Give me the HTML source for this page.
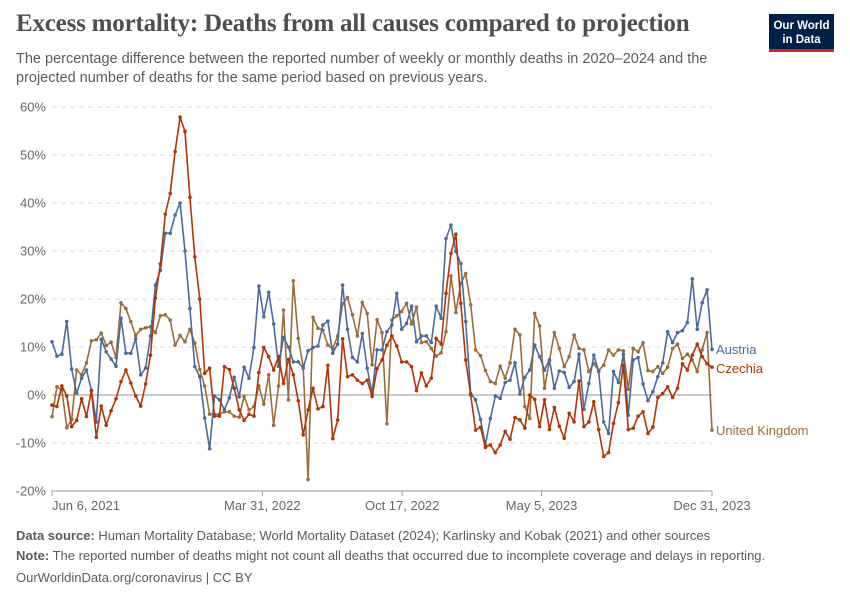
<!DOCTYPE html>
<html><head><meta charset="utf-8">
<style>
body{margin:0;background:#fff;font-family:"Liberation Sans",sans-serif;}
#wrap{position:relative;width:850px;height:600px;overflow:hidden;}
.title{position:absolute;left:16px;top:10px;font-family:"Liberation Serif",serif;font-size:25px;color:#4e4e4e;font-weight:bold;letter-spacing:-0.2px}
.sub{position:absolute;left:16px;top:50px;font-size:14.5px;color:#5b5b5b;line-height:19px;width:740px}
.logo{position:absolute;left:769px;top:14px;width:65px;height:38px;background:#002147;color:#fff;font-size:11.5px;font-weight:bold;text-align:center;line-height:14px;box-sizing:border-box;padding-top:5px;border-bottom:3px solid #ce261e}
.foot{position:absolute;left:16px;font-size:13px;color:#5b5b5b}
</style></head><body>
<div id="wrap">
<div class="title">Excess mortality: Deaths from all causes compared to projection</div>
<div class="sub">The percentage difference between the reported number of weekly or monthly deaths in 2020–2024 and the projected number of deaths for the same period based on previous years.</div>
<div class="logo">Our World<br>in Data</div>
<svg id="chart" width="850" height="600" style="position:absolute;left:0;top:0"></svg>
<div class="foot" style="top:528px"><b>Data source:</b> Human Mortality Database; World Mortality Dataset (2024); Karlinsky and Kobak (2021) and other sources</div>
<div class="foot" style="top:548px"><b>Note:</b> The reported number of deaths might not count all deaths that occurred due to incomplete coverage and delays in reporting.</div>
<div class="foot" style="top:570px">OurWorldinData.org/coronavirus | CC BY</div>
</div>
<script>
const yTicks=[60,50,40,30,20,10,0,-10,-20];
const xTickLabels=["Jun 6, 2021","Mar 31, 2022","Oct 17, 2022","May 5, 2023","Dec 31, 2023"];
const xTickWeeks=[0,42.7,71.1,99.4,134];
const austria=[11.1,8.1,8.5,15.3,5.4,0.4,3.5,5.2,1,-5.6,11.6,9,7.5,6,16,8.7,8.7,11.7,4.2,5.6,12.3,22.9,26,33.7,33.7,37.5,40,30,18,5.9,3.8,-4.8,-11.2,-0.2,-1,-3.1,-0.6,3.7,-0.4,5.8,3.5,9.9,22.7,16.3,21.4,14.8,6,12,10,6.9,6.9,5.6,9.2,9.9,10.2,14.6,15.4,8.7,10.6,22.9,13.7,7.8,6.9,12.8,5.6,0.3,9.4,9.4,13.2,14.6,21.2,13.7,14.9,18.5,11.1,12.3,12.3,10.9,18.5,16,32.6,35.4,29.9,27.4,15.3,0.3,-1,-5.1,-10.4,-4.9,-0.2,-0.7,2.6,3.1,6.7,0.2,3.7,5.2,10.4,8,5.2,7.3,1.4,5,4.7,1.6,2.8,8.5,-3,2.4,8.3,4.9,-5.6,-8,4.9,2.6,8.5,-4.2,7.3,7.8,2.3,-1.2,0.7,3.8,6.7,13.2,10.9,13,13.4,15.1,24.2,13.7,19.2,21.9,9.5];
const czechia=[-2.1,-2.4,1.9,-0.2,-6.6,-5.3,-0.8,-4.5,0.9,-8.8,-2.3,-6.3,-3.3,-0.8,2.8,5.2,2.5,-0.2,-2.3,2.3,8.3,20.2,27.3,37.7,42,50.7,57.9,54.9,41.2,28.8,20,4.5,5.6,-4.4,-4.4,5.9,5.3,1.4,-3.1,-5.3,-4,-4.4,4.7,9.9,8,5.2,8,2.4,7.4,4.2,-1.2,-8.3,-3.1,1.4,-2.9,-2.4,6.2,-9.1,-5.2,11.7,3.8,4.2,3.1,2.4,3.1,-0.3,5.5,7.3,10.4,12.3,10.2,6.9,6.9,5.9,0.9,4.6,1.9,3.5,11.8,10.6,21.2,29.5,33.5,19.1,7.3,0,-7.3,-6.7,-10.9,-10.4,-12,-10.4,-7.6,-9.2,-4.7,-5.2,-6.9,0,-0.9,-6.6,-1,-7.2,-2.6,-6.5,-9,-3.8,-5.6,2.9,-6.6,-5.6,-1.4,-7.2,-12.8,-12,-5.9,-1.6,6.2,-7.2,-6.9,-4.4,-3.5,-8,-6.7,-0.5,0.3,1.7,-0.5,1.4,6.5,5.2,8.3,10.6,8,6.5,5.8];
const uk=[-4.5,1.7,1,-6.8,-5.1,5.2,4.2,6.7,11.3,11.5,12.9,10.3,11,7.8,19.2,18,15.3,12.4,13.7,14,14.2,13,16.5,16.7,15.6,10.4,12.4,11.1,13.7,10.8,5.3,1.9,-4,-4,-4,-3.5,-3.5,-4.4,-4.6,-0.3,-3.1,-2.4,1.9,-1.9,4.2,-6.3,1.9,17.7,-1,23.8,11.8,5.9,-17.6,16.2,13.9,13.5,10.4,9.7,12.3,19,20.3,16.7,12.3,19.3,17,6.3,15.7,13,-6,15.6,16.5,17.4,19.1,14.8,18.3,10.9,11.1,9.7,8.1,8.8,13.2,24.8,17.2,23.3,25.3,18.8,9.4,8.2,5.1,2.8,2.4,6,3.5,6.7,13.7,12.5,-2.4,-4.9,17,14.4,1.4,7.2,13,9.7,5.9,8,12.5,9.7,9.4,4.9,6.5,5.1,6.2,9.4,8.3,9.4,9.2,1.2,9.7,9,10.9,5.1,4.9,5.9,4.5,5.8,9.7,10.6,7.6,8.5,7.3,4.9,9.4,13,-7.3];
const NS="http://www.w3.org/2000/svg";
const svg=document.getElementById('chart');
const X0=52,X1=712,NW=134;
const xs=w=>X0+(X1-X0)*w/NW;
const ys=v=>395-(v*4.8);
function mk(t,a,p){const e=document.createElementNS(NS,t);for(const k in a)e.setAttribute(k,a[k]);(p||svg).appendChild(e);return e;}
yTicks.forEach(v=>{
  const g=mk('line',{x1:X0,x2:X1,y1:ys(v),y2:ys(v),stroke:v===0?'#b8b8b8':'#dddddd','stroke-width':v===0?1.5:1,'stroke-dasharray':v===0?'':'5,4'});
  
  
  const t=mk('text',{x:46,y:ys(v)+4.5,'text-anchor':'end','font-size':13,fill:'#666','font-family':'Liberation Sans'});
  t.textContent=v+'%';
  
  
});
const ax=mk('line',{x1:X0,x2:X1,y1:491,y2:491,stroke:'#999','stroke-width':1});


xTickLabels.forEach((l,i)=>{
  const x=xs(xTickWeeks[i]);
  const tk=mk('line',{x1:x,x2:x,y1:491,y2:496,stroke:'#999'});
  
  
  const t=mk('text',{x:i===0?x:x,y:510,'text-anchor':i===0?'start':'middle','font-size':13,fill:'#666','font-family':'Liberation Sans'});
  t.textContent=l;
  
  
});
function series(data,color,name,label,ly){
  const g=mk('g',{});
  
  
  const pts=data.map((v,i)=>xs(i).toFixed(1)+','+ys(v).toFixed(1)).join(' ');
  const pl=mk('polyline',{points:pts,fill:'none',stroke:color,'stroke-width':1.6,'stroke-linejoin':'round'},g);
  
  
  data.forEach((v,i)=>{
    const c=mk('circle',{cx:xs(i),cy:ys(v),r:1.8,fill:color},g);
    
    
  });
  const t=mk('text',{x:716,y:ly,'font-size':13,fill:color,'font-family':'Liberation Sans'});
  t.textContent=label;
  
  
}
series(uk,'#9a6d3c','united-kingdom','United Kingdom',435);
series(austria,'#4c6a9c','austria','Austria',354);
series(czechia,'#b13507','czechia','Czechia',373);
</script>
</body></html>
